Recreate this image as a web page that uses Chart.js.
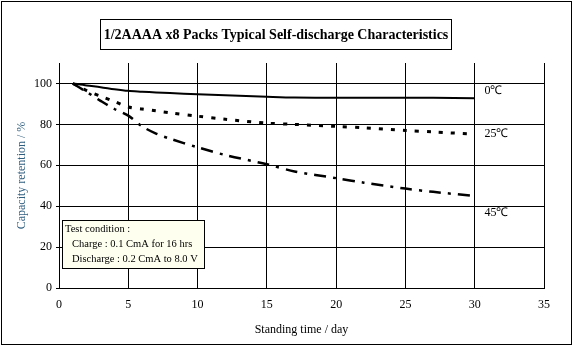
<!DOCTYPE html>
<html>
<head>
<meta charset="utf-8">
<script src="https://cdn.jsdelivr.net/npm/chart.js@4"></script>
<style>
  html, body { margin: 0; padding: 0; background: #fff; }
  #wrap { width: 574px; height: 350px; position: relative; }
</style>
</head>
<body>
<div id="wrap"><canvas id="grafico" width="574" height="350"></canvas></div>
<script>
// datos
const dias = [1, 2, 3, 4, 5, 6, 7, 8, 10, 12, 15, 17, 20, 22, 25, 27, 30];
const cap0 = [100, 99, 98.2, 97.2, 96.4, 96, 95.6, 95.3, 94.7, 94.2, 93.5, 93.1, 93, 93, 93, 93, 92.8];
const cap25 = [100, 96.5, 93.8, 91.2, 88.5, 87.5, 86.6, 85.7, 84, 82.5, 80.6, 80, 79, 78.3, 77, 76.3, 75.2];
const cap45 = [100, 95.8, 91.5, 87.5, 84.3, 79, 75.5, 73, 68.8, 65, 60.5, 57, 53.7, 51.5, 48.6, 47, 45];
const etiquetas = ["0℃", "25℃", "45℃"];
const ticksY = [0, 20, 40, 60, 80, 100];

const serif = "'Liberation Serif', 'Times New Roman', serif";

const pares = arr => arr.map((v, i) => ({ x: dias[i], y: v }));

// 👉 marco, título y cuadro de condiciones
const decoracion = {
  id: "decoracion",
  afterDraw(chart) {
    const ctx = chart.ctx;
    const { x, y } = chart.scales;
    ctx.save();
    ctx.strokeStyle = "#000";
    ctx.lineWidth = 1;
    ctx.strokeRect(1.5, 1.5, 570, 343);

    // título con recuadro
    ctx.strokeRect(100.5, 19.5, 351, 30);
    ctx.fillStyle = "#000";
    ctx.font = "bold 14px " + serif;
    ctx.textAlign = "center";
    ctx.textBaseline = "middle";
    ctx.fillText("1/2AAAA x8 Packs Typical Self-discharge Characteristics", 276, 35);

    // etiquetas de temperatura
    ctx.font = "12px " + serif;
    ctx.textAlign = "left";
    const posY = [96.6, 75.6, 36.6];
    etiquetas.forEach((t, i) => {
      ctx.fillText(t, x.getPixelForValue(30.7), y.getPixelForValue(posY[i]));
    });

    // cuadro de condiciones de prueba
    ctx.fillStyle = "#FFFFF0";
    ctx.fillRect(62, 220, 142, 48);
    ctx.strokeRect(62.5, 220.5, 142, 48);
    ctx.fillStyle = "#000";
    ctx.font = "10.5px " + serif;
    ctx.fillText("Test condition :", 65, 229);
    ctx.fillText("Charge : 0.1 CmA for 16 hrs", 72, 244);
    ctx.fillText("Discharge : 0.2 CmA to 8.0 V", 72, 259);
    ctx.restore();
  }
};

new Chart(document.getElementById("grafico"), {
  type: "line",
  data: {
    datasets: [
      {
        label: "0℃",
        data: pares(cap0),
        borderColor: "#000",
        borderWidth: 2,
        pointRadius: 0,
        tension: 0.3
      },
      {
        label: "25℃",
        data: pares(cap25),
        borderColor: "#000",
        borderWidth: 3,
        borderDash: [4, 8],
        pointRadius: 0,
        tension: 0.3
      },
      {
        label: "45℃",
        data: pares(cap45),
        borderColor: "#000",
        borderWidth: 2.5,
        borderDash: [12, 7, 3, 7],
        pointRadius: 0,
        tension: 0.3
      }
    ]
  },
  options: {
    responsive: false,
    animation: false,
    layout: { padding: { left: 0, top: 63, right: 30, bottom: 13 } },
    plugins: {
      legend: { display: false },
      tooltip: { enabled: false }
    },
    scales: {
      x: {
        type: "linear",
        min: 0,
        max: 35,
        ticks: { stepSize: 5, color: "#000", font: { family: serif, size: 12 }, padding: 10 },
        grid: { color: "#000", lineWidth: 1, drawTicks: false },
        border: { color: "#000" },
        title: {
          display: true,
          text: "Standing time / day",
          color: "#000",
          font: { family: serif, size: 12 },
          padding: { top: 4, bottom: 0 }
        },
        afterFit: s => { s.height = 49; }
      },
      y: {
        min: 0,
        max: 110,
        afterBuildTicks: s => { s.ticks = ticksY.map(v => ({ value: v })); },
        ticks: { color: "#000", font: { family: serif, size: 12 }, padding: 4 },
        grid: {
          color: "#000",
          lineWidth: 1,
          tickLength: 3,
          drawTicks: true
        },
        border: { color: "#000" },
        title: {
          display: true,
          text: "Capacity retention / %",
          color: "#2f5f80",
          font: { family: serif, size: 12 },
          padding: { top: 15 }
        },
        afterFit: s => { s.width = 59; }
      }
    }
  },
  plugins: [decoracion]
});
</script>
</body>
</html>
